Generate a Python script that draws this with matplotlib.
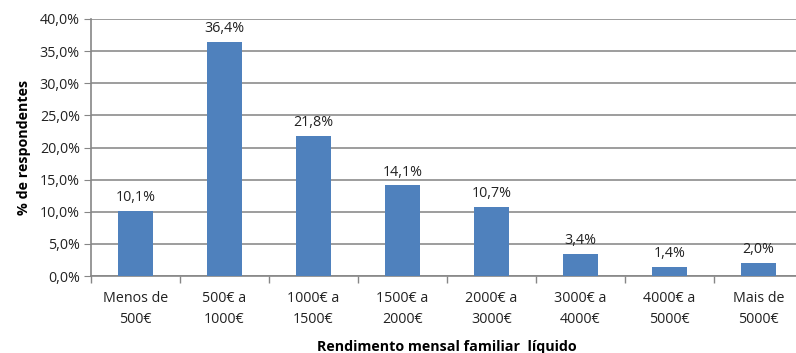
import matplotlib
matplotlib.use("Agg")
import matplotlib.pyplot as plt
from matplotlib.ticker import FuncFormatter, FixedLocator

categories = ["Menos de\n500€", "500€ a\n1000€", "1000€ a\n1500€", "1500€ a\n2000€",
              "2000€ a\n3000€", "3000€ a\n4000€", "4000€ a\n5000€", "Mais de\n5000€"]
values = [10.1, 36.4, 21.8, 14.1, 10.7, 3.4, 1.4, 2.0]
yticks = [0, 5, 10, 15, 20, 25, 30, 35, 40]

plt.rcParams['font.family'] = ['Open Sans', 'DejaVu Sans']
FS = 10.3

fig = plt.figure(figsize=(7.96, 3.53), dpi=100)
ax = fig.add_axes([91/796, 77/353, 712/796, 257/353])

x = list(range(len(categories)))
ax.bar(x, values, width=0.4, color="#4F81BD", zorder=3)
for xi, v in zip(x, values):
    ax.text(xi, v + 0.9, f"{v:.1f}%".replace(".", ","), ha="center", va="bottom",
            fontsize=FS, color="#222222")

ax.set_xlim(-0.5, len(categories) - 0.5)
ax.set_ylim(0, 40)
ax.set_yticks(yticks)
ax.yaxis.set_major_formatter(FuncFormatter(lambda v, p: f"{v:.1f}%".replace(".", ",")))
ax.set_xticks(x)
ax.set_xticklabels(categories, fontsize=FS, color="#222222", linespacing=1.55)
ax.xaxis.set_minor_locator(FixedLocator([i - 0.5 for i in range(len(categories) + 1)]))
ax.tick_params(axis="x", which="major", length=0, pad=11)
ax.tick_params(axis="x", which="minor", length=5, color="#868686", width=1)
ax.tick_params(axis="y", length=5, color="#868686", labelsize=FS, labelcolor="#222222", pad=3)

ax.grid(axis="y", color="#8C8C8C", linewidth=1.2, zorder=0)
for s in ["top", "right"]:
    ax.spines[s].set_visible(False)
for s in ["left", "bottom"]:
    ax.spines[s].set_color("#868686")
    ax.spines[s].set_linewidth(1.2)

ax.set_ylabel("% de respondentes", fontsize=FS, fontweight="bold", labelpad=6)
ax.set_xlabel("Rendimento mensal familiar  líquido", fontsize=FS, fontweight="bold", labelpad=9)

fig.savefig("out.png", dpi=100)
